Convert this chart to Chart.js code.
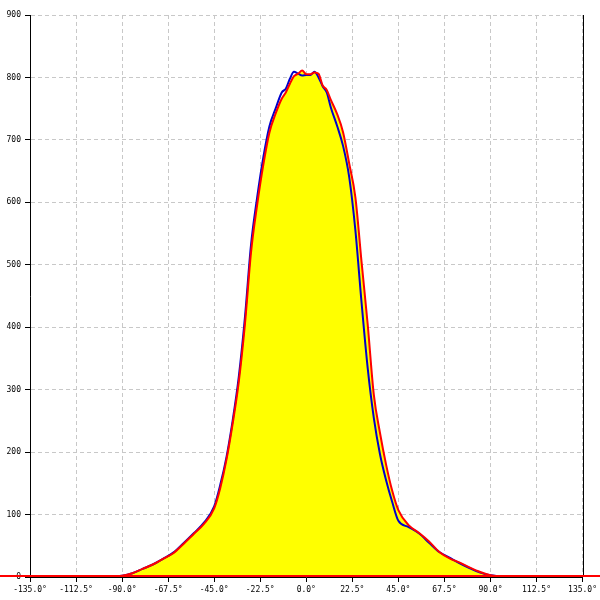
<!DOCTYPE html>
<html>
<head>
<meta charset="utf-8">
<script src="https://cdn.jsdelivr.net/npm/chart.js@4/dist/chart.umd.min.js"></script>
<style>
    body{margin:0;background:#fff;}
    #grafica{display:block;}
</style>
</head>
<body>
<canvas id="grafica" width="600" height="600"></canvas>
<script>
// angulos (grados) donde se leyeron los valores
const angulos=[-100,-90,-85,-80,-75,-70,-65,-60,-55,-50,-45,-42,-39,-36,-33,-30,-27,-24,-21,-18,-15,-12,-10,-8,-6,-4,-2,0,2,4,6,8,10,12,15,18,21,24,27,30,33,36,39,42,45,50,55,60,65,70,75,80,85,90,100];

const serieRoja=[0,2,6,13,20,29,38,53,69,85,110,143,188,245,312,404,520,596,660,712,742,766,776,790,802,806,811,805,805,808,806,787,780,764,742,712,662,608,505,405,292,231,180,138,107,83,71,57,40,30,23,15,8,3,0];

const serieAzul=[0,2,6,13,20,29,39,54,70,87,113,148,192,250,320,415,532,608,672,722,750,776,782,798,809,806,803,804,804,809,800,786,776,752,723,690,640,555,440,335,255,197,155,120,90,80,70,55,40,31,22,14,7,3,0];

const ticksX=[-135,-112.5,-90,-67.5,-45,-22.5,0,22.5,45,67.5,90,112.5,135];
const ticksY=[0,100,200,300,400,500,600,700,800,900];

const puntos=(xs,ys)=>{
    var d=[];
    xs.forEach((x,i)=>{
        d.push({x:x,y:ys[i]});
    });
    return d;
}

// linea roja en cero que cruza todo el lienzo + borde derecho
const extras={
    id:"extras",
    afterDatasetsDraw(chart){
        const ctx=chart.ctx;
        const area=chart.chartArea;
        const y0=chart.scales.y.getPixelForValue(0);
        const xr=Math.round(area.right)+0.5;
        ctx.save();
        ctx.strokeStyle="#000";
        ctx.lineWidth=1;
        ctx.beginPath();
        ctx.moveTo(xr,area.top);
        ctx.lineTo(xr,area.bottom);
        ctx.stroke();
        ctx.strokeStyle="#ff0000";
        ctx.lineWidth=2;
        ctx.beginPath();
        ctx.moveTo(0,y0-1);
        ctx.lineTo(chart.width,y0-1);
        ctx.stroke();
        ctx.restore();
    }
};

const fuente={family:"'DejaVu Sans Mono', monospace",size:8};

const data={
    datasets:[{
        data:puntos(angulos,serieRoja),
        borderColor:"#ff0000",
        borderWidth:2,
        pointRadius:0,
        fill:false,
        cubicInterpolationMode:"monotone"
    },{
        data:puntos(angulos,serieAzul),
        borderColor:"#0000cc",
        borderWidth:2,
        pointRadius:0,
        fill:false,
        cubicInterpolationMode:"monotone"
    },{
        data:puntos(angulos,serieRoja),
        borderWidth:0,
        pointRadius:0,
        backgroundColor:"#ffff00",
        fill:"origin",
        cubicInterpolationMode:"monotone"
    }]
};

const options={
    responsive:false,
    animation:false,
    layout:{padding:{top:15,right:15,left:0,bottom:0}},
    plugins:{
        legend:{display:false},
        tooltip:{enabled:false}
    },
    scales:{
        x:{
            type:"linear",
            min:-135,
            max:135,
            afterBuildTicks:(s)=>{s.ticks=ticksX.map(v=>({value:v}));},
            afterFit:(s)=>{s.height=23;},
            ticks:{
                autoSkip:false,
                maxRotation:0,
                color:"#000",
                font:fuente,
                padding:3,
                callback:(v)=>v.toFixed(1)+"°"
            },
            grid:{color:"#c8c8c8",tickColor:"#000",tickLength:5,tickBorderDash:[]},
            border:{color:"#000",width:1,dash:[4,3]}
        },
        y:{
            min:0,
            max:900,
            afterBuildTicks:(s)=>{s.ticks=ticksY.map(v=>({value:v}));},
            afterFit:(s)=>{s.width=30;},
            ticks:{
                color:"#000",
                font:fuente,
                padding:4
            },
            grid:{color:"#c8c8c8",tickColor:"#000",tickLength:5,tickBorderDash:[]},
            border:{color:"#000",width:1,dash:[4,3]}
        }
    }
};

new Chart("grafica",{type:"line",data,options,plugins:[extras]});
</script>
</body>
</html>
